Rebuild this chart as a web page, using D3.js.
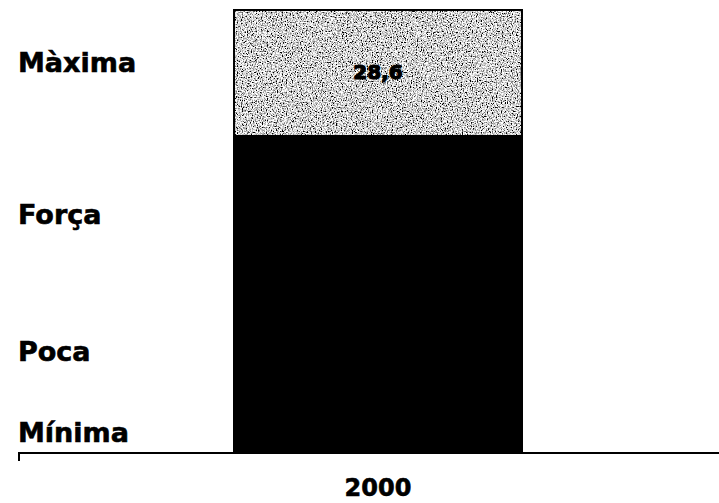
<!DOCTYPE html>
<html>
<head>
<meta charset="utf-8">
<script src="https://cdn.jsdelivr.net/npm/d3@7"></script>
<style>
  body { margin: 0; background: #fff; }
  svg { display: block; }
  text { font-family: "DejaVu Sans", Verdana, sans-serif; font-weight: bold; fill: #000; stroke: #000; stroke-width: 0.6px; }
</style>
</head>
<body>
<div id="chart"></div>
<script>
// Data
const years = ["2000"];
const levels = ["Mínima", "Poca", "Força", "Màxima"];
const values = [9.4, 26.8, 35.2, 28.6];   // % per level, bottom to top
const shownLabels = [null, null, null, "28,6"];

const width = 719, height = 503;

const svg = d3.select('#chart')
    .append('svg')
    .attr('width', width)
    .attr('height', height);

// speckled grey fill for the top segment
const defs = svg.append('defs');
const f = defs.append('filter').attr('id', 'speckle')
    .attr('x', 0).attr('y', 0).attr('width', 1).attr('height', 1);
f.append('feTurbulence')
    .attr('type', 'fractalNoise')
    .attr('baseFrequency', 0.8)
    .attr('numOctaves', 2)
    .attr('seed', 3)
    .attr('result', 'noise');
f.append('feColorMatrix')
    .attr('in', 'noise')
    .attr('type', 'matrix')
    .attr('values', '3.2 0 0 0 -0.95  3.2 0 0 0 -0.95  3.2 0 0 0 -0.95  0 0 0 0 1')
    .attr('result', 'grey');
f.append('feComposite')
    .attr('in', 'grey')
    .attr('in2', 'SourceGraphic')
    .attr('operator', 'in');

const x = d3.scaleBand()
    .domain(years)
    .range([17, 739])
    .paddingInner(0)
    .paddingOuter(0.745);

const y = d3.scaleLinear()
    .domain([0, 100])
    .range([453, 9]);

// stack
let acc = 0;
const segs = values.map((v, i) => {
    const s = { level: levels[i], y0: acc, y1: acc + v, label: shownLabels[i] };
    acc += v;
    return s;
});

const g = svg.append('g');

g.selectAll('.seg')
    .data(segs)
    .enter()
    .append('rect')
    .attr('class', 'seg')
    .attr('x', x(years[0]))
    .attr('width', x.bandwidth())
    .attr('y', d => y(d.y1))
    .attr('height', d => y(d.y0) - y(d.y1))
    .attr('shape-rendering', 'crispEdges')
    .attr('fill', d => d.level === 'Màxima' ? '#c4c4c4' : '#000')
    .attr('stroke', d => d.level === 'Màxima' ? null : '#000')
    .attr('filter', d => d.level === 'Màxima' ? 'url(#speckle)' : null);

// outline round the grey part
const topSeg = segs[segs.length - 1];
g.append('rect')
    .attr('x', x(years[0]) + 1)
    .attr('width', x.bandwidth() - 2)
    .attr('y', y(topSeg.y1) + 1)
    .attr('height', y(topSeg.y0) - y(topSeg.y1) - 1)
    .attr('fill', 'none')
    .attr('stroke', '#000')
    .attr('stroke-width', 2);

// value labels
g.selectAll('.val')
    .data(segs.filter(d => d.label))
    .enter()
    .append('text')
    .attr('class', 'val')
    .attr('x', x(years[0]) + x.bandwidth() / 2)
    .attr('y', d => y((d.y0 + d.y1) / 2))
    .attr('dy', '0.35em')
    .attr('text-anchor', 'middle')
    .style('font-size', '20px')
    .style('stroke-width', '1.2px')
    .text(d => d.label);

// level labels on the left
g.selectAll('.lvl')
    .data(segs)
    .enter()
    .append('text')
    .attr('class', 'lvl')
    .attr('x', 18)
    .attr('y', d => d.level === 'Màxima' ? y((d.y0 + d.y1) / 2) - 10 : y((d.y0 + d.y1) / 2))
    .attr('dy', '0.36em')
    .style('font-size', '27px')
    .text(d => d.level);

// x axis
const xAxis = svg.append('g')
    .attr('transform', `translate(0,${y(0)})`)
    .call(d3.axisBottom(x).tickSize(0).tickPadding(26));
xAxis.select('.domain').remove();
xAxis.selectAll('text')
    .style('font-size', '24px')
    .style('font-family', '"DejaVu Sans", Verdana, sans-serif')
    .style('font-weight', 'bold')
    .attr('fill', '#000');

xAxis.append('path')
    .attr('d', `M19,8V0H${width}`)
    .attr('fill', 'none')
    .attr('stroke', '#000')
    .attr('stroke-width', 2);
</script>
</body>
</html>
